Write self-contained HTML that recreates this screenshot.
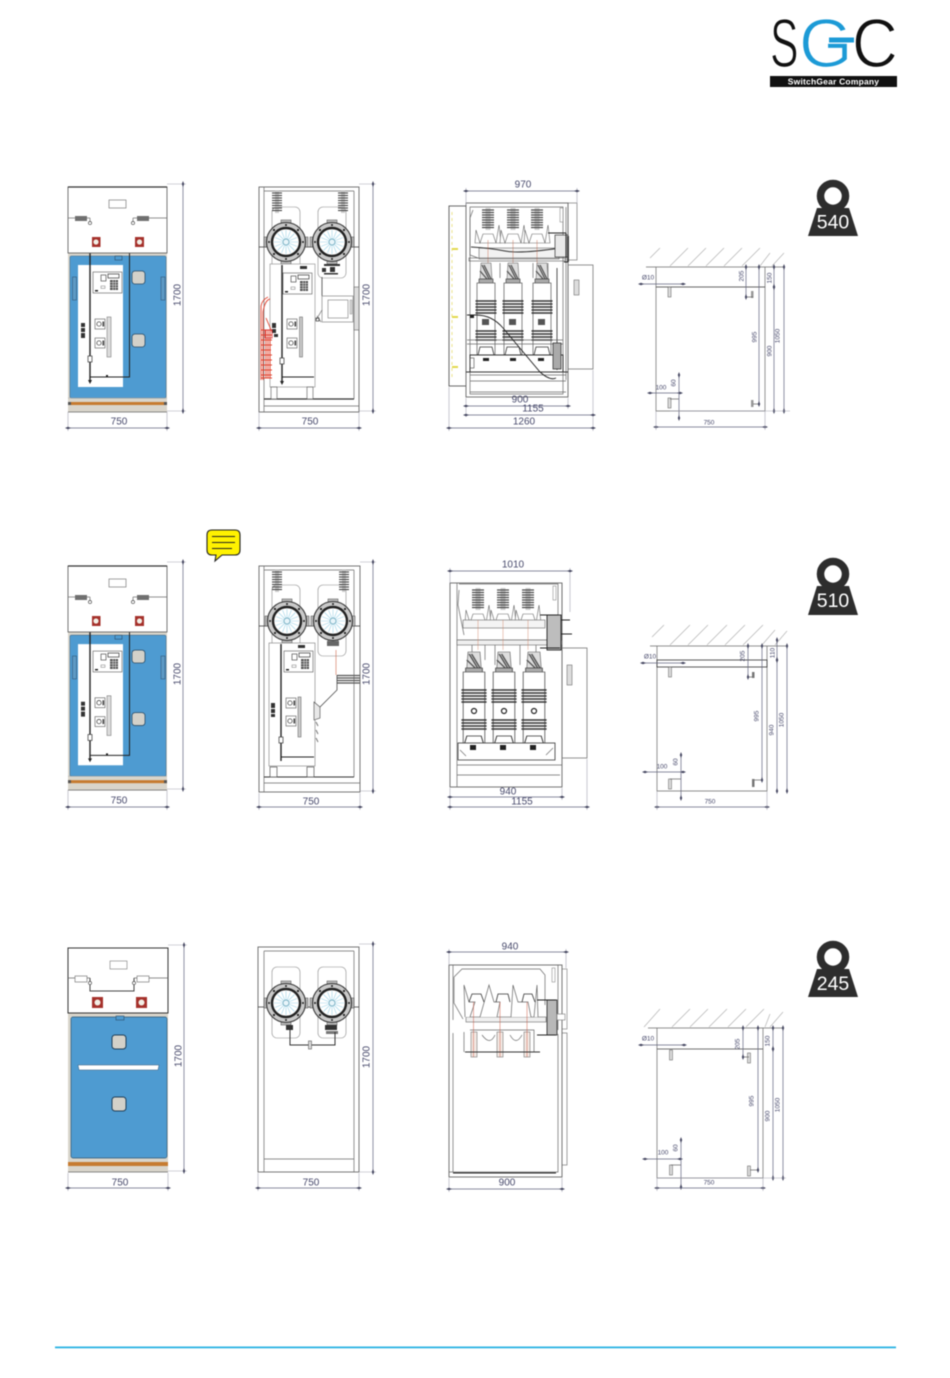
<!DOCTYPE html>
<html lang="en">
<head>
<meta charset="utf-8">
<title>SGC switchgear dimensions</title>
<style>
html,body{margin:0;padding:0;background:#fff;width:950px;height:1378px;overflow:hidden}
svg{display:block;filter:blur(.45px)}
text{font-family:"Liberation Sans",sans-serif}
.t{font-size:10px;fill:#47496b;text-anchor:middle;dominant-baseline:central}
.s{font-size:6.5px;fill:#47496b;text-anchor:middle;dominant-baseline:central}
.w{font-size:19.5px;fill:#fff;text-anchor:middle;dominant-baseline:central}
.d{stroke:#62647f;stroke-width:.7;fill:none;marker-start:url(#ar);marker-end:url(#ar)}
.e{stroke:#a5a6b2;stroke-width:.6;fill:none}
.g{stroke:#6a6a6a;stroke-width:.7;fill:none}
.k{stroke:#222;stroke-width:1;fill:none}
.b{stroke:#222;stroke-width:1.4;fill:none}
.h{stroke:#b4b4b4;stroke-width:.7;fill:none}
.a{fill:#cfcfcf;stroke:#444;stroke-width:.6}
</style>
</head>
<body>
<svg width="950" height="1378" viewBox="0 0 950 1378" xmlns="http://www.w3.org/2000/svg">
<defs>
<marker id="ar" viewBox="-3 -1.5 6 3" markerWidth="6" markerHeight="3" orient="auto" markerUnits="userSpaceOnUse"><path d="M-3 0 L0 -1.2 L3 0 L0 1.2Z" fill="#444660"/></marker>

<g id="sw">
<rect x="-5" y="-22" width="10" height="4" fill="#bbb" stroke="#444" stroke-width=".5"/>
<rect x="-5" y="18" width="10" height="4" fill="#bbb" stroke="#444" stroke-width=".5"/>
<rect x="-22" y="-5" width="4" height="10" fill="#bbb" stroke="#444" stroke-width=".5"/>
<rect x="18" y="-5" width="4" height="10" fill="#bbb" stroke="#444" stroke-width=".5"/>
<circle r="19.5" fill="#c9c9c9" stroke="#333" stroke-width="1.1"/>
<circle r="14" fill="#fff" stroke="#222" stroke-width="2.4"/>
<g stroke="#9fd4e8" stroke-width=".6">
<line x1="-12" y1="0" x2="12" y2="0"/><line x1="0" y1="-12" x2="0" y2="12"/>
<line x1="-8.500" y1="-8.500" x2="8.500" y2="8.500"/><line x1="-8.500" y1="8.500" x2="8.500" y2="-8.500"/>
<line x1="-11" y1="-4.500" x2="11" y2="4.500"/><line x1="-11" y1="4.500" x2="11" y2="-4.500"/>
<line x1="-4.500" y1="-11" x2="4.500" y2="11"/><line x1="4.500" y1="-11" x2="-4.500" y2="11"/>
</g>
<circle r="3" fill="#e8f5fa" stroke="#5f9fb5" stroke-width=".7"/>
<g fill="#222"><circle cx="-12" cy="-12" r="1.100"/><circle cx="12" cy="-12" r="1.100"/><circle cx="-12" cy="12" r="1.100"/><circle cx="12" cy="12" r="1.100"/><circle cx="-17" cy="0" r="1"/><circle cx="17" cy="0" r="1"/><circle cx="0" cy="-17" r="1"/><circle cx="0" cy="17" r="1"/></g>
</g>

<g id="ctrl">
<rect x="0" y="0" width="29" height="21" fill="#fff" stroke="#555" stroke-width=".6"/>
<rect x="8" y="3" width="5" height="6" fill="#fff" stroke="#333" stroke-width=".6"/>
<rect x="15" y="2" width="11" height="4" fill="#fff" stroke="#333" stroke-width=".7"/>
<rect x="17" y="8" width="8" height="10" fill="#555"/>
<g stroke="#fff" stroke-width=".5"><line x1="17" y1="10.5" x2="25" y2="10.5"/><line x1="17" y1="13" x2="25" y2="13"/><line x1="17" y1="15.5" x2="25" y2="15.5"/><line x1="20" y1="8" x2="20" y2="18"/><line x1="22.5" y1="8" x2="22.5" y2="18"/></g>
<rect x="8" y="14" width="4" height="2.4" fill="none" stroke="#555" stroke-width=".4"/>
<rect x="2" y="18" width="3" height="1.5" fill="#222"/>
</g>

<g id="rel">
<rect x="0" y="0" width="10" height="10" fill="#fff" stroke="#555" stroke-width=".6"/>
<circle cx="4" cy="5" r="2.2" fill="#fff" stroke="#333" stroke-width=".7"/>
<rect x="7.5" y="2.5" width="1.6" height="5" fill="#444"/>
</g>

<!-- front panel door contents -->
<g id="inner">
<rect x="78" y="265" width="45" height="122" fill="#fff"/>
<use href="#ctrl" x="93" y="272"/>
<use href="#rel" x="95" y="319"/>
<use href="#rel" x="95" y="338"/>
<rect x="107" y="317" width="4" height="40" fill="#ddd" stroke="#666" stroke-width=".5"/>
<rect x="81" y="323" width="4" height="4" fill="#333"/><rect x="81" y="328" width="4" height="4" fill="#333"/><rect x="81" y="333" width="4" height="5" fill="#333"/>
<line class="b" x1="90" y1="223" x2="90" y2="382"/>
<path class="k" d="M133 223 V229 H129.5 V377 H90"/>
<rect x="88" y="356" width="4" height="6" fill="#fff" stroke="#333" stroke-width=".7"/>
<path d="M88 380 L92 380 L90 384Z" fill="#222"/>
<rect x="106" y="375" width="2" height="2" fill="#222"/>
</g>

<g id="upperA">
<rect x="68" y="187" width="99" height="66" fill="#fff" stroke="#555" stroke-width=".8"/>
<line x1="68" y1="187" x2="167" y2="187" stroke="#333" stroke-width="1.2"/>
<rect x="109" y="200" width="17" height="8" fill="#fff" stroke="#666" stroke-width=".6"/>
<rect x="75" y="216" width="12" height="5" fill="#707070"/>
<rect x="137" y="216" width="12" height="5" fill="#707070"/>
<line class="g" x1="68" y1="218" x2="75" y2="218"/><line class="g" x1="87" y1="218" x2="90" y2="218"/>
<line class="g" x1="133" y1="218" x2="137" y2="218"/><line class="g" x1="149" y1="218" x2="167" y2="218"/>
<line class="g" x1="90" y1="218" x2="90" y2="222"/><line class="g" x1="133" y1="218" x2="133" y2="222"/>
<circle cx="90" cy="223" r="1.6" fill="#fff" stroke="#333" stroke-width=".6"/>
<circle cx="133" cy="223" r="1.6" fill="#fff" stroke="#333" stroke-width=".6"/>
<rect x="92" y="237" width="8.5" height="10" fill="#a5312b"/><circle cx="96" cy="242" r="2.6" fill="#f2efe6"/>
<rect x="135" y="237" width="9" height="10" fill="#a5312b"/><circle cx="139.5" cy="242" r="2.6" fill="#f2efe6"/>
</g>

<g id="doorA">
<rect x="68" y="253" width="99" height="159" fill="#d9d5cb"/>
<rect x="70" y="256" width="96" height="142" rx="1.5" fill="#4e9bd1" stroke="#3a6a8f" stroke-width=".6"/>
<rect x="68" y="402" width="99" height="3" fill="#c67b30"/>
<line x1="68" y1="398" x2="167" y2="398" stroke="#aaa" stroke-width=".5"/>
<line x1="68" y1="412" x2="167" y2="412" stroke="#666" stroke-width=".8"/>
<rect x="68" y="402" width="3" height="3" fill="#555"/><rect x="164" y="402" width="3" height="3" fill="#555"/>
<rect x="72.500" y="277" width="4" height="23" fill="#5d9ac5" stroke="#33597a" stroke-width=".6"/>
<rect x="161" y="277" width="4" height="23" fill="#5d9ac5" stroke="#33597a" stroke-width=".6"/>
<rect x="132" y="271" width="13" height="13" rx="3" fill="#d3d1c9" stroke="#2b4c66" stroke-width=".8"/>
<rect x="132" y="334" width="13" height="13" rx="3" fill="#d3d1c9" stroke="#2b4c66" stroke-width=".8"/>
<rect x="115" y="256" width="7" height="4" fill="#4e9bd1" stroke="#2b4c66" stroke-width=".6"/>
<use href="#inner"/>
</g>

<g id="insV">
<rect x="-2" y="0" width="4" height="22" fill="#ccc"/>
<g stroke="#444" stroke-width="1.100">
<line x1="-5" y1="2" x2="5" y2="2"/><line x1="-5" y1="4.500" x2="5" y2="4.500"/><line x1="-5" y1="7" x2="5" y2="7"/><line x1="-5" y1="9.500" x2="5" y2="9.500"/><line x1="-5" y1="12" x2="5" y2="12"/><line x1="-5" y1="14.500" x2="5" y2="14.500"/><line x1="-5" y1="17" x2="5" y2="17"/><line x1="-5" y1="19.500" x2="5" y2="19.500"/>
</g>
</g>
<g id="insW">
<rect x="-2.500" y="0" width="5" height="22" fill="#ccc"/>
<g stroke="#444" stroke-width="1.200">
<line x1="-6" y1="2" x2="6" y2="2"/><line x1="-6" y1="4.500" x2="6" y2="4.500"/><line x1="-6" y1="7" x2="6" y2="7"/><line x1="-6" y1="9.500" x2="6" y2="9.500"/><line x1="-6" y1="12" x2="6" y2="12"/><line x1="-6" y1="14.500" x2="6" y2="14.500"/><line x1="-6" y1="17" x2="6" y2="17"/><line x1="-6" y1="19.500" x2="6" y2="19.500"/>
</g>
</g>

<g id="wellOutline">
<path d="M0 13 V5 a5 5 0 0 1 5 -5 H23 a5 5 0 0 1 5 5 V66 a5 5 0 0 1 -5 5 H5 a5 5 0 0 1 -5 -5Z" fill="#fff" stroke="#888" stroke-width=".6"/>
</g>

<!-- view 3 pieces -->
<g id="pole">
<path d="M-5 -20 L5 -20 L6 -4 L-6 -4Z" fill="#ddd" stroke="#555" stroke-width=".5"/>
<path d="M-4 -18 L3 -4 M-2 -18 L5 -4 M-6 -12 L1 -4" stroke="#555" stroke-width="1.300"/>
<rect x="-7" y="-4" width="14" height="5" fill="#aaa" stroke="#333" stroke-width=".6"/>
<rect x="-9" y="0" width="18" height="72" fill="#fff" stroke="#555" stroke-width=".7"/>
<g stroke="#333" stroke-width="1.400">
<line x1="-10.500" y1="18" x2="10.500" y2="18"/><line x1="-10.500" y1="21" x2="10.500" y2="21"/><line x1="-10.500" y1="24" x2="10.500" y2="24"/><line x1="-10.500" y1="27" x2="10.500" y2="27"/><line x1="-10.500" y1="30" x2="10.500" y2="30"/>
<line x1="-10.500" y1="48" x2="10.500" y2="48"/><line x1="-10.500" y1="51" x2="10.500" y2="51"/><line x1="-10.500" y1="54" x2="10.500" y2="54"/><line x1="-10.500" y1="57" x2="10.500" y2="57"/>
</g>
<path d="M-8 72 L-6 64 H6 L8 72" fill="none" stroke="#333" stroke-width=".8"/>
</g>

<g id="cone">
<path d="M-13 13 L-12 0 L-8 13 L-5 4 H5 L8 13 L11 -5 L13 13 L-13 13Z" fill="#fff" stroke="#666" stroke-width=".6"/>
</g>

<!-- reused view-4 anchor -->
<rect id="anch" x="-1.500" y="0" width="3" height="10" fill="#ddd" stroke="#555" stroke-width=".5"/>
</defs>

<rect width="950" height="1378" fill="#fff"/>

<!-- LOGO -->
<g>
<text x="770" y="67" font-size="69" fill="#111" stroke="#fff" stroke-width="1.300" transform="translate(770 0) scale(.62 1) translate(-770 0)">S</text>
<text x="799" y="67" font-size="69" fill="#1c9ad6" stroke="#fff" stroke-width="1.300">G</text>
<rect x="829" y="37.500" width="25" height="5" fill="#1c9ad6"/>
<text x="852" y="67" font-size="69" fill="#111" stroke="#fff" stroke-width="1.300" transform="translate(852 0) scale(.92 1) translate(-852 0)">C</text>
<rect x="770" y="76" width="127" height="11" fill="#111"/>
<text x="833.500" y="84.500" font-size="8.500" font-weight="700" fill="#fff" text-anchor="middle" style="letter-spacing:.2px">SwitchGear Company</text>
</g>

<!-- ROW 1 FRONT -->
<use href="#doorA"/>
<use href="#upperA"/>
<path class="e" d="M167 184H186M167 411H186M68 412V431M167 412V431"/>
<line class="d" x1="183" y1="184" x2="183" y2="411"/>
<line class="d" x1="68" y1="428" x2="167" y2="428"/>
<text class="t" x="178" y="295" transform="rotate(-90 178 295)">1700</text>
<text class="t" x="119" y="422">750</text>

<!-- ROW 1 BACK -->
<g>
<rect x="259" y="187" width="100" height="225" fill="#fff" stroke="#555" stroke-width=".8"/>
<path class="g" d="M264 187V412M354 191V399M264 191H354M264 406H359"/>
<line x1="264" y1="399" x2="354" y2="399" stroke="#333" stroke-width="1.200"/>
<use href="#wellOutline" x="272" y="207"/><use href="#wellOutline" x="318" y="207"/>
<use href="#insV" x="277" y="191"/><use href="#insV" x="343" y="191"/>
<line class="g" x1="259" y1="247" x2="359" y2="247" style="stroke:#333"/>
<use href="#sw" x="286" y="242"/><use href="#sw" x="332" y="242"/>
<rect x="270" y="264" width="45" height="123" fill="#fff" stroke="#888" stroke-width=".6"/>
<use href="#ctrl" x="283" y="273"/>
<rect x="300" y="266" width="7" height="3" fill="#333"/>
<use href="#rel" x="287" y="319"/><use href="#rel" x="287" y="338"/>
<rect x="299.500" y="317" width="3" height="40" fill="#ccc" stroke="#555" stroke-width=".5"/>
<rect x="272" y="323" width="4" height="5" fill="#333"/><rect x="272" y="329" width="4" height="4" fill="#333"/><rect x="274" y="334" width="4" height="3" fill="#333"/>
<path class="b" d="M282 265V383"/><path class="k" d="M282 377H314"/>
<rect x="280" y="358" width="4" height="6" fill="#fff" stroke="#333" stroke-width=".7"/>
<path d="M280 381L284 381L282 385Z" fill="#222"/>
<rect x="271" y="387" width="6" height="12" fill="#fff" stroke="#555" stroke-width=".6"/><rect x="307" y="387" width="6" height="12" fill="#fff" stroke="#555" stroke-width=".6"/>
<!-- red wiring -->
<path d="M261 380V306Q262 300 268 297M263 380V312Q265 300 270 299M261 330H272M261 335H272M261 340H272M261 345H272M261 350H271M261 355H272M261 360H272M261 365H272M261 370H272M261 375H272M261 378H272M266 330V378M268 330V378M270 330V378M266 318L272 332" fill="none" stroke="#e2432f" stroke-width=".9"/>
<rect x="265" y="330" width="7" height="8" fill="none" stroke="#d33" stroke-width=".8"/>
<!-- aux box -->
<path class="k" d="M322 277V296" style="stroke:#666"/>
<rect x="322" y="296" width="31" height="26" fill="#fff" stroke="#888" stroke-width=".7"/>
<rect x="328" y="300" width="20" height="18" fill="#fff" stroke="#777" stroke-width=".6"/>
<rect x="350" y="300" width="2" height="14" fill="#ddd" stroke="#777" stroke-width=".4"/>
<rect x="354" y="287" width="5" height="43" fill="#ddd" stroke="#666" stroke-width=".6"/>
<path class="g" d="M322 310L316 320M317 316L321 322"/>
<rect x="316" y="318" width="3" height="3" fill="none" stroke="#333" stroke-width=".7"/>
<g fill="#333"><rect x="324" y="264" width="16" height="2"/><rect x="322" y="268" width="4" height="4"/><rect x="330" y="267" width="5" height="5"/><rect x="324" y="273" width="14" height="1.500"/></g>
</g>
<path class="e" d="M359 184H376M359 411H376M259 412V431M359 412V431"/>
<line class="d" x1="373" y1="184" x2="373" y2="411"/>
<line class="d" x1="259" y1="428" x2="359" y2="428"/>
<text class="t" x="367" y="295" transform="rotate(-90 367 295)">1700</text>
<text class="t" x="310" y="422">750</text>

<!-- ROW 1 SIDE -->
<g>
<rect x="449" y="206" width="18" height="180" fill="#fff" stroke="#444" stroke-width=".8"/>
<path d="M452 212V380" stroke="#e8dc70" stroke-width=".8" stroke-dasharray="3 3"/>
<rect x="568" y="265" width="25" height="104" fill="#fff" stroke="#777" stroke-width=".8"/>
<rect x="568" y="203" width="9" height="57" fill="#fff" stroke="#777" stroke-width=".7"/>
<rect x="466" y="203" width="102" height="194" fill="#fff" stroke="#666" stroke-width=".9"/>
<path class="g" d="M470 207H563V394H470Z"/>
<path class="g" d="M473 210L470 218V255L478 258M566 207V380"/>
<rect x="574" y="280" width="5" height="15" fill="#ddd" stroke="#555" stroke-width=".5"/>
<rect x="560" y="208" width="3" height="14" fill="#fff" stroke="#777" stroke-width=".5"/>
<use href="#insW" x="488" y="208"/><use href="#insW" x="513" y="208"/><use href="#insW" x="537" y="208"/>
<use href="#cone" x="488" y="230"/><use href="#cone" x="513" y="230"/><use href="#cone" x="537" y="230"/>
<rect x="479" y="248" width="80" height="11" fill="#f2f2f2" stroke="#666" stroke-width=".6"/>
<path d="M471 247Q490 248 505 251T560 248" fill="none" stroke="#333" stroke-width="1"/>
<rect x="555" y="235" width="13" height="22" fill="#e9e9e9" stroke="#333" stroke-width=".7"/>
<path class="k" d="M548 233H566M566 233V258M564 262H568"/>
<path d="M568 236V262" stroke="#333" stroke-width="1.800"/>
<g stroke="#c45a3a" stroke-width=".4"><line x1="488" y1="240" x2="488" y2="270"/><line x1="513" y1="240" x2="513" y2="270"/><line x1="537" y1="240" x2="537" y2="270"/></g>
<rect x="469" y="258" width="96" height="3" fill="none" stroke="#555" stroke-width=".6"/>
<path class="g" d="M483 263V280M500 263V278M516 263V280M533 263V278M548 263V280" />
<use href="#pole" x="486" y="283"/><use href="#pole" x="513" y="283"/><use href="#pole" x="542" y="283"/>
<g fill="#555"><rect x="482" y="319" width="7" height="6"/><rect x="509" y="319" width="7" height="6"/><rect x="538" y="319" width="7" height="6"/></g>
<path class="g" d="M467 340H563M467 344H563"/>
<rect x="470" y="355" width="93" height="17" fill="#fff" stroke="#222" stroke-width=".9"/>
<rect x="483" y="358" width="6" height="3" fill="#222"/><rect x="510" y="358" width="6" height="3" fill="#222"/><rect x="538" y="358" width="6" height="3" fill="#222"/>
<path class="g" d="M470 375H566M470 381H566M470 392H566"/><line x1="466" y1="372" x2="568" y2="372" stroke="#333" stroke-width=".9"/>
<path d="M467 315H476Q492 315 503 328L540 372Q550 381 556 378" fill="none" stroke="#222" stroke-width=".9"/>
<path class="k" d="M557 268V370" style="stroke:#555"/><rect x="553" y="343" width="8" height="26" fill="#aaa" stroke="#222" stroke-width=".7"/>
<rect x="470" y="358" width="4" height="10" fill="none" stroke="#444" stroke-width=".6"/>
<rect x="470" y="315" width="4" height="3" fill="#222"/>
<rect x="452" y="248" width="6" height="2" fill="#e3d94d"/><rect x="452" y="316" width="6" height="2" fill="#e3d94d"/><rect x="452" y="366" width="6" height="2" fill="#e3d94d"/>
</g>
<path class="e" d="M466 188V205M577 188V204M466 398V417M568 398V409M593 370V431M449 387V431"/>
<line class="d" x1="466" y1="191" x2="577" y2="191"/>
<line class="d" x1="466" y1="406" x2="568" y2="406"/>
<line class="d" x1="466" y1="415" x2="593" y2="415"/>
<line class="d" x1="449" y1="428" x2="593" y2="428"/>
<text class="t" x="523" y="185">970</text>
<text class="t" x="520" y="400">900</text>
<text class="t" x="533" y="409">1155</text>
<text class="t" x="524" y="422">1260</text>

<!-- ROW 1 WALL -->
<g>
<g class="h"><line x1="650" y1="258" x2="660" y2="248"/><line x1="670" y1="266" x2="688" y2="248"/><line x1="688" y1="266" x2="706" y2="248"/><line x1="706" y1="266" x2="724" y2="248"/><line x1="724" y1="266" x2="742" y2="248"/><line x1="742" y1="266" x2="760" y2="248"/><line x1="760" y1="266" x2="770" y2="253"/><line x1="772" y1="266" x2="784" y2="253"/></g>
<line class="g" x1="646" y1="267" x2="785" y2="267"/>
<path class="g" d="M656 267V411H765V267"/>
<line x1="656" y1="287" x2="765" y2="287" stroke="#333" stroke-width=".8"/>
<use href="#anch" x="669.500" y="287"/><use href="#anch" x="669.500" y="398"/>
<rect x="751" y="291" width="2.500" height="7" fill="#999"/><rect x="751" y="400" width="2.500" height="7" fill="#999"/>
<path class="g" d="M746 297H753M758 404H753M670 399H679"/>
<line class="d" x1="746" y1="267" x2="746" y2="297"/>
<line class="d" x1="774" y1="267" x2="774" y2="287"/>
<line class="d" x1="759" y1="267" x2="759" y2="404"/>
<line class="d" x1="774" y1="287" x2="774" y2="411"/>
<line class="d" x1="784" y1="267" x2="784" y2="411"/>
<line class="d" x1="641" y1="284" x2="683" y2="284"/>
<line class="d" x1="650" y1="393" x2="680" y2="393"/>
<line class="d" x1="679" y1="375" x2="679" y2="418"/>
<line class="d" x1="656" y1="427" x2="765" y2="427"/>
<path class="e" d="M656 411V430M765 411V430M670 411H790"/>
<text class="s" x="648" y="278">Ø10</text>
<text class="s" x="742" y="276" transform="rotate(-90 742 276)">205</text>
<text class="s" x="770" y="278" transform="rotate(-90 770 278)">150</text>
<text class="s" x="755" y="337" transform="rotate(-90 755 337)">995</text>
<text class="s" x="770" y="351" transform="rotate(-90 770 351)">900</text>
<text class="s" x="778" y="336" transform="rotate(-90 778 336)">1050</text>
<text class="s" x="661" y="388">100</text>
<text class="s" x="674" y="383" transform="rotate(-90 674 383)">60</text>
<text class="s" x="709" y="423">750</text>
</g>

<!-- WEIGHTS -->
<g>
<circle cx="833" cy="196" r="12.500" fill="none" stroke="#2d2d2d" stroke-width="7.500"/>
<path d="M817 208H849L858 236H808Z" fill="#2d2d2d"/>
<text class="w" x="833" y="222.500">540</text>
</g>
<g>
<circle cx="833" cy="574" r="12.500" fill="none" stroke="#2d2d2d" stroke-width="7.500"/>
<path d="M817 586H849L858 615H808Z" fill="#2d2d2d"/>
<text class="w" x="833" y="601">510</text>
</g>
<g>
<circle cx="833" cy="957" r="12.500" fill="none" stroke="#2d2d2d" stroke-width="7.500"/>
<path d="M817 969H849L858 997H808Z" fill="#2d2d2d"/>
<text class="w" x="833" y="984">245</text>
</g>

<!-- SPEECH BUBBLE -->
<g>
<path d="M212 530H235Q240 530 240 535V550Q240 555 235 555H222L215 561L216 555H212Q207 555 207 550V535Q207 530 212 530Z" fill="#fff200" stroke="#222" stroke-width="1.100"/>
<g stroke="#222" stroke-width="1"><line x1="212" y1="536.500" x2="235" y2="536.500"/><line x1="212" y1="542.500" x2="235" y2="542.500"/><line x1="212" y1="548.500" x2="232" y2="548.500"/></g>
</g>

<!-- ROW 2 FRONT -->
<use href="#doorA" transform="translate(0 379) scale(1 .993) translate(0 2)"/>
<use href="#upperA" y="379"/>
<path class="e" d="M167 562H186M167 789H186M68 790V810M167 790V810"/>
<line class="d" x1="183" y1="562" x2="183" y2="789"/>
<line class="d" x1="68" y1="807" x2="167" y2="807"/>
<text class="t" x="178" y="674" transform="rotate(-90 178 674)">1700</text>
<text class="t" x="119" y="801">750</text>

<!-- ROW 2 BACK -->
<g>
<rect x="259" y="566" width="101" height="226" fill="#fff" stroke="#555" stroke-width=".8"/>
<path class="g" d="M264 566V792M354 570V777M264 570H354M264 783H360"/>
<line x1="264" y1="777" x2="354" y2="777" stroke="#333" stroke-width="1"/>
<use href="#wellOutline" x="272" y="585"/><use href="#wellOutline" x="318" y="585"/>
<use href="#insV" x="277" y="570"/><use href="#insV" x="344" y="570"/>
<line x1="259" y1="626" x2="360" y2="626" stroke="#333" stroke-width=".8"/>
<use href="#sw" x="287" y="621"/><use href="#sw" x="333" y="621"/>
<rect x="269" y="643" width="46" height="123" fill="#fff" stroke="#777" stroke-width=".6"/>
<use href="#ctrl" x="284" y="651"/>
<rect x="298" y="645" width="7" height="3" fill="#333"/>
<use href="#rel" x="286" y="698"/><use href="#rel" x="286" y="716"/>
<rect x="298" y="697" width="3" height="40" fill="#ccc" stroke="#555" stroke-width=".5"/>
<rect x="271" y="703" width="4" height="5" fill="#333"/><rect x="271" y="709" width="4" height="4" fill="#333"/><rect x="271" y="714" width="4" height="3" fill="#333"/>
<path class="b" d="M281 644V761"/><path class="k" d="M281 757H314"/>
<rect x="279" y="737" width="4" height="6" fill="#fff" stroke="#333" stroke-width=".7"/>
<rect x="270" y="767" width="7" height="10" fill="#fff" stroke="#555" stroke-width=".7"/><rect x="307" y="767" width="7" height="10" fill="#fff" stroke="#555" stroke-width=".7"/>
<path d="M336 650V675" stroke="#d06a4a" stroke-width=".6"/>
<g stroke="#555" stroke-width="1.200"><line x1="337" y1="675.500" x2="360" y2="675.500"/><line x1="337" y1="678" x2="360" y2="678"/><line x1="337" y1="680.500" x2="360" y2="680.500"/><line x1="337" y1="683" x2="360" y2="683"/></g>
<path class="g" d="M337 675V690L320 707" style="stroke:#333"/>
<path d="M314 702L320 707V718L314 720Z" fill="#e8e8e8" stroke="#444" stroke-width=".6"/>
<path d="M316 722L318 726 M316 730L318 734 M316 738L318 742" stroke="#777" stroke-width="1"/>
<rect x="327" y="641" width="12" height="5" fill="#666"/>
</g>
<path class="e" d="M360 562H376M360 791H376M259 793V810M360 793V810"/>
<line class="d" x1="373" y1="562" x2="373" y2="791"/>
<line class="d" x1="259" y1="807" x2="360" y2="807"/>
<text class="t" x="367" y="674" transform="rotate(-90 367 674)">1700</text>
<text class="t" x="311" y="802">750</text>

<!-- ROW 2 SIDE -->
<g>
<rect x="562" y="648" width="25" height="110" fill="#fff" stroke="#777" stroke-width=".8"/>
<rect x="450" y="583" width="112" height="204" fill="#fff" stroke="#666" stroke-width=".9"/>
<path class="g" d="M457 583V787M459 584H558V640H457M562 583V650"/>
<rect x="567" y="665" width="5" height="20" fill="#ddd" stroke="#555" stroke-width=".5"/>
<rect x="553" y="586" width="3" height="14" fill="#fff" stroke="#777" stroke-width=".5"/>
<path class="g" d="M459 590L458 605L464 635"/>
<use href="#insW" x="478" y="588"/><use href="#insW" x="503" y="588"/><use href="#insW" x="528" y="588"/>
<use href="#cone" x="478" y="610"/><use href="#cone" x="503" y="610"/><use href="#cone" x="528" y="610"/>
<rect x="463" y="620" width="82" height="8" fill="#f4f4f4" stroke="#666" stroke-width=".6"/>
<rect x="457" y="640" width="105" height="5" fill="#efefef" stroke="#666" stroke-width=".6"/>
<g stroke="#d07a55" stroke-width=".4"><line x1="478" y1="620" x2="478" y2="650"/><line x1="503" y1="620" x2="503" y2="650"/><line x1="528" y1="620" x2="528" y2="650"/></g>
<rect x="547" y="615" width="14" height="35" fill="#bdbdbd" stroke="#222" stroke-width=".9"/>
<path class="k" d="M540 615H558M540 648H560M561 620H570M561 634H572"/>
<path class="g" d="M472 645V665M485 645V660M495 645V665M520 645V665M536 645V660"/>
<use href="#pole" x="474" y="672" transform="translate(474 0) scale(1.200 1) translate(-474 0)"/>
<use href="#pole" x="504" y="672" transform="translate(504 0) scale(1.200 1) translate(-504 0)"/>
<use href="#pole" x="534" y="672" transform="translate(534 0) scale(1.200 1) translate(-534 0)"/>
<g fill="#fff" stroke="#222" stroke-width="1.200"><circle cx="474" cy="711" r="2.500"/><circle cx="504" cy="711" r="2.500"/><circle cx="534" cy="711" r="2.500"/></g>
<rect x="458" y="743" width="97" height="17" fill="#fff" stroke="#333" stroke-width=".8"/>
<rect x="470" y="745" width="6" height="5" fill="#222"/><rect x="500" y="745" width="6" height="5" fill="#222"/><rect x="530" y="745" width="6" height="5" fill="#222"/>
<path class="g" d="M458 760H555M457 765H562M457 775H560"/>
<path class="g" d="M460 750L466 756M546 755L553 748"/>
</g>
<path class="e" d="M450 568V583M570 568V612M450 788V810M562 788V800M587 759V810"/>
<line class="d" x1="450" y1="571" x2="570" y2="571"/>
<line class="d" x1="450" y1="797" x2="562" y2="797"/>
<line class="d" x1="450" y1="807" x2="587" y2="807"/>
<text class="t" x="513" y="565">1010</text>
<text class="t" x="508" y="792">940</text>
<text class="t" x="522" y="802">1155</text>

<!-- ROW 2 WALL -->
<g>
<g class="h"><line x1="652" y1="637" x2="664" y2="625"/><line x1="670" y1="645" x2="690" y2="625"/><line x1="688" y1="645" x2="708" y2="625"/><line x1="707" y1="645" x2="727" y2="625"/><line x1="725" y1="645" x2="745" y2="625"/><line x1="743" y1="645" x2="763" y2="625"/><line x1="762" y1="645" x2="775" y2="630"/><line x1="775" y1="645" x2="787" y2="631"/></g>
<line class="g" x1="650" y1="646" x2="788" y2="646"/>
<path class="g" d="M657 646V791H767V646"/>
<rect x="657" y="660" width="110" height="7" fill="#fff" stroke="#333" stroke-width=".8"/>
<use href="#anch" x="670" y="667"/><use href="#anch" x="670" y="779"/>
<rect x="752" y="672" width="2.500" height="6" fill="#777"/><rect x="752" y="779" width="2.500" height="8" fill="#777"/>
<path class="g" d="M670 779H681M748 677H753M762 780H754"/>
<line class="d" x1="748" y1="646" x2="748" y2="677"/>
<line class="d" x1="777" y1="640" x2="777" y2="660"/>
<line class="d" x1="762" y1="646" x2="762" y2="780"/>
<line class="d" x1="777" y1="660" x2="777" y2="791"/>
<line class="d" x1="787" y1="646" x2="787" y2="791"/>
<line class="d" x1="643" y1="663" x2="683" y2="663"/>
<line class="d" x1="645" y1="772" x2="683" y2="772"/>
<line class="d" x1="681" y1="755" x2="681" y2="798"/>
<line class="d" x1="657" y1="807" x2="767" y2="807"/>
<path class="e" d="M657 791V810M767 791V810"/>
<text class="s" x="650" y="657">Ø10</text>
<text class="s" x="743" y="656" transform="rotate(-90 743 656)">205</text>
<text class="s" x="773" y="653" transform="rotate(-90 773 653)">110</text>
<text class="s" x="757" y="716" transform="rotate(-90 757 716)">995</text>
<text class="s" x="772" y="730" transform="rotate(-90 772 730)">940</text>
<text class="s" x="782" y="720" transform="rotate(-90 782 720)">1050</text>
<text class="s" x="662" y="767">100</text>
<text class="s" x="676" y="762" transform="rotate(-90 676 762)">60</text>
<text class="s" x="710" y="802">750</text>
</g>

<!-- ROW 3 FRONT -->
<g>
<rect x="68" y="1013" width="100" height="159" fill="#d9d5cb"/>
<rect x="71" y="1017" width="96" height="141" rx="2" fill="#4e9bd1" stroke="#2f5876" stroke-width=".7"/>
<rect x="68" y="1162" width="100" height="4" fill="#c67b30"/>
<line x1="68" y1="1172" x2="168" y2="1172" stroke="#666" stroke-width=".8"/>
<rect x="112" y="1035" width="14" height="14" rx="3" fill="#d3d1c9" stroke="#1f3f58" stroke-width="1"/>
<rect x="112" y="1097" width="14" height="14" rx="3" fill="#d3d1c9" stroke="#1f3f58" stroke-width="1"/>
<path d="M78 1065H159L158 1070H79Z" fill="#fff" stroke="#33597a" stroke-width=".5"/>
<rect x="116" y="1016" width="8" height="4" fill="#4e9bd1" stroke="#2b4c66" stroke-width=".6"/>
<rect x="68" y="948" width="100" height="65" fill="#fff" stroke="#333" stroke-width="1"/>
<rect x="110" y="961" width="17" height="8" fill="#fff" stroke="#777" stroke-width=".6"/>
<rect x="75" y="976" width="12" height="6" fill="#fff" stroke="#666" stroke-width=".6"/>
<rect x="137" y="976" width="12" height="6" fill="#fff" stroke="#666" stroke-width=".6"/>
<path class="g" d="M68 978H75M87 978H90M134 978H137M149 978H168"/>
<path d="M90 978V991H134V978" fill="none" stroke="#444" stroke-width="1"/>
<circle cx="90" cy="983" r="1.600" fill="#fff" stroke="#333" stroke-width=".6"/>
<circle cx="134" cy="983" r="1.600" fill="#fff" stroke="#333" stroke-width=".6"/>
<rect x="92" y="997" width="11" height="11" fill="#a5312b"/><circle cx="97.500" cy="1002.500" r="3" fill="#f2efe6"/>
<rect x="136" y="997" width="11" height="11" fill="#a5312b"/><circle cx="141.500" cy="1002.500" r="3" fill="#f2efe6"/>
</g>
<path class="e" d="M168 945H187M168 1171H187M68 1173V1191M168 1173V1191"/>
<line class="d" x1="184" y1="945" x2="184" y2="1171"/>
<line class="d" x1="68" y1="1188" x2="168" y2="1188"/>
<text class="t" x="179" y="1056" transform="rotate(-90 179 1056)">1700</text>
<text class="t" x="120" y="1183">750</text>

<!-- ROW 3 BACK -->
<g>
<rect x="258" y="947" width="101" height="225" fill="#fff" stroke="#555" stroke-width=".8"/>
<path class="g" d="M264 951V1172M354 951V1172M264 951H354M264 1159H354"/>
<use href="#wellOutline" x="272" y="967"/><use href="#wellOutline" x="318" y="967"/>
<line x1="258" y1="1007" x2="359" y2="1007" stroke="#333" stroke-width=".8"/>
<use href="#sw" x="286" y="1003"/><use href="#sw" x="332" y="1003"/>
<g fill="#333"><rect x="286" y="1025" width="7" height="5"/><rect x="325" y="1025" width="12" height="5"/><rect x="326" y="1031" width="12" height="3" fill="#777"/></g>
<path d="M290 1030V1045H335V1032" fill="none" stroke="#333" stroke-width="1"/>
<rect x="308.500" y="1041" width="3" height="8" fill="#ddd" stroke="#555" stroke-width=".6"/>
</g>
<path class="e" d="M359 944H376M359 1172H376M258 1173V1191M359 1173V1191"/>
<line class="d" x1="373" y1="944" x2="373" y2="1172"/>
<line class="d" x1="258" y1="1188" x2="359" y2="1188"/>
<text class="t" x="367" y="1057" transform="rotate(-90 367 1057)">1700</text>
<text class="t" x="311" y="1183">750</text>

<!-- ROW 3 SIDE -->
<g>
<rect x="558" y="1033" width="9" height="132" fill="#fff" stroke="#777" stroke-width=".7"/>
<rect x="558" y="969" width="9" height="60" fill="#fff" stroke="#888" stroke-width=".7"/>
<rect x="449" y="965" width="113" height="212" fill="#fff" stroke="#666" stroke-width=".9"/>
<path class="g" d="M453 965V1020M453 1033V1172H558V1034M449 1172H558M558 965V1030"/>
<path class="g" d="M454 977L462 969H540L545 975V1005M454 977V1003L463 1019"/>
<rect x="552" y="968" width="3" height="14" fill="#fff" stroke="#777" stroke-width=".5"/>
<rect x="466" y="1017" width="80" height="5" fill="#f0f0f0" stroke="#666" stroke-width=".6"/>
<path d="M465 1017L464 985L469 1002H475L470 1017M480 1017L489 985L494 1002H500L497 1017M511 1017L513 985L518 1002H528L531 1017M534 1017L537 985L538 1017" fill="#fff" stroke="#666" stroke-width=".7"/>
<path d="M469 1002L472 994H481L484 1002M496 1002L498 994H508L510 1002M522 1002L524 994H532L535 1002" fill="none" stroke="#333" stroke-width=".8"/>
<path class="g" d="M464 1032V1052M470 1030H534V1052M482 1035Q490 1046 495 1035M510 1035Q516 1046 522 1035"/>
<rect x="471" y="1032" width="6" height="25" fill="#f3e9e4" stroke="#777" stroke-width=".6"/>
<rect x="497" y="1032" width="6" height="25" fill="#f3e9e4" stroke="#777" stroke-width=".6"/>
<rect x="524" y="1032" width="6" height="25" fill="#f3e9e4" stroke="#777" stroke-width=".6"/>
<g stroke="#cf5a44" stroke-width=".5"><line x1="473.500" y1="1002" x2="473.500" y2="1057"/><line x1="500" y1="1002" x2="500" y2="1057"/><line x1="527" y1="1002" x2="527" y2="1057"/></g>
<line x1="465" y1="1052" x2="540" y2="1052" stroke="#333" stroke-width=".9"/>
<rect x="547" y="1000" width="10" height="35" fill="#b8b8b8" stroke="#222" stroke-width=".8"/>
<path class="k" d="M537 1000H556M537 1035H556"/>
<rect x="557" y="1014" width="8" height="6" fill="#fff" stroke="#777" stroke-width=".6"/>
<path class="k" d="M453 1173H556" />
</g>
<path class="e" d="M449 949V965M566 949V968M449 1178V1192M562 1178V1192"/>
<line class="d" x1="449" y1="952" x2="566" y2="952"/>
<line class="d" x1="449" y1="1189" x2="562" y2="1189"/>
<text class="t" x="510" y="947">940</text>
<text class="t" x="507" y="1183">900</text>

<!-- ROW 3 WALL -->
<g>
<g class="h"><line x1="644" y1="1027" x2="660" y2="1009"/><line x1="672" y1="1027" x2="690" y2="1009"/><line x1="690" y1="1027" x2="708" y2="1009"/><line x1="709" y1="1027" x2="727" y2="1009"/><line x1="728" y1="1027" x2="746" y2="1009"/><line x1="746" y1="1027" x2="764" y2="1009"/><line x1="765" y1="1027" x2="770" y2="1014"/><line x1="770" y1="1027" x2="783" y2="1012"/></g>
<line class="g" x1="648" y1="1028" x2="784" y2="1028"/>
<path class="g" d="M657 1028V1178H763V1028"/>
<line x1="657" y1="1049" x2="763" y2="1049" stroke="#444" stroke-width=".8"/>
<use href="#anch" x="671" y="1050"/><use href="#anch" x="671" y="1165"/>
<use href="#anch" x="749" y="1053"/><use href="#anch" x="749" y="1166"/>
<path class="g" d="M671 1165H681M743 1057H749M758 1170H750"/>
<line class="d" x1="743" y1="1028" x2="743" y2="1057"/>
<line class="d" x1="773" y1="1028" x2="773" y2="1049"/>
<line class="d" x1="758" y1="1028" x2="758" y2="1170"/>
<line class="d" x1="773" y1="1049" x2="773" y2="1178"/>
<line class="d" x1="783" y1="1028" x2="783" y2="1178"/>
<line class="d" x1="641" y1="1045" x2="684" y2="1045"/>
<line class="d" x1="645" y1="1159" x2="680" y2="1159"/>
<line class="d" x1="681" y1="1140" x2="681" y2="1187"/>
<line class="d" x1="657" y1="1188" x2="763" y2="1188"/>
<path class="e" d="M657 1178V1191M763 1178V1191M657 1178H786"/>
<text class="s" x="648" y="1039">Ø10</text>
<text class="s" x="738" y="1044" transform="rotate(-90 738 1044)">205</text>
<text class="s" x="768" y="1041" transform="rotate(-90 768 1041)">150</text>
<text class="s" x="752" y="1101" transform="rotate(-90 752 1101)">995</text>
<text class="s" x="768" y="1116" transform="rotate(-90 768 1116)">900</text>
<text class="s" x="778" y="1105" transform="rotate(-90 778 1105)">1050</text>
<text class="s" x="663" y="1153">100</text>
<text class="s" x="676" y="1148" transform="rotate(-90 676 1148)">60</text>
<text class="s" x="709" y="1183">750</text>
</g>

<!-- FOOTER LINE -->
<rect x="55" y="1346.500" width="841" height="1.800" fill="#2bb3e3"/>
</svg>
</body>
</html>
